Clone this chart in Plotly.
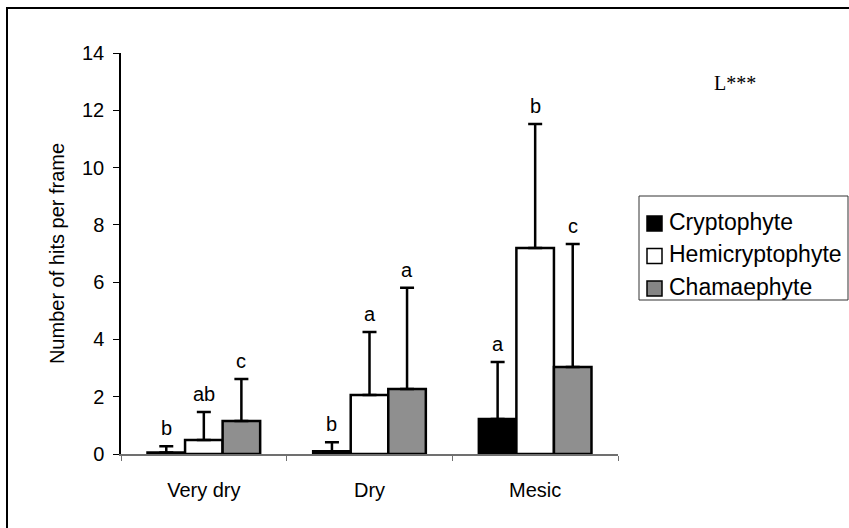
import plotly.graph_objects as go

# Moisture classes and life-form groups
sites = ["Very dry", "Dry", "Mesic"]
life_forms = ["Cryptophyte", "Hemicryptophyte", "Chamaephyte"]

# Mean number of hits per frame and the upper error (SD)
cryptophyte_mean = [0.05, 0.10, 1.22]
cryptophyte_err = [0.22, 0.31, 1.99]
hemicryptophyte_mean = [0.49, 2.06, 7.19]
hemicryptophyte_err = [0.98, 2.20, 4.33]
chamaephyte_mean = [1.15, 2.27, 3.04]
chamaephyte_err = [1.47, 3.53, 4.29]

# Significance letters above each bar
cryptophyte_letters = ["b", "b", "a"]
hemicryptophyte_letters = ["ab", "a", "b"]
chamaephyte_letters = ["c", "a", "c"]

W, H = 849, 528
L_M, R_M, T_M, B_M = 121, 231, 53, 74
PW, PH = W - L_M - R_M, H - T_M - B_M
BARGAP = 0.32
FONT = "Liberation Sans, Arial"


def px(x):
    """Horizontal pixel position -> paper fraction."""
    return (x - L_M) / PW


def py(y):
    """Vertical pixel position (from top) -> paper fraction."""
    return (H - B_M - y) / PH


dots = dict(shape=".", size=2, solidity=0.5, fgcolor="black",
            bgcolor="white", fillmode="replace")
fills = {
    "Cryptophyte": dict(color="white"),
    "Hemicryptophyte": dict(color="white"),
    "Chamaephyte": dict(color="white", pattern=dots),
}
fills["Cryptophyte"] = dict(color="black")
legend_fill = {"Cryptophyte": "black", "Hemicryptophyte": "white",
               "Chamaephyte": "#858585"}

series = [
    ("Cryptophyte", cryptophyte_mean, cryptophyte_err, cryptophyte_letters),
    ("Hemicryptophyte", hemicryptophyte_mean, hemicryptophyte_err, hemicryptophyte_letters),
    ("Chamaephyte", chamaephyte_mean, chamaephyte_err, chamaephyte_letters),
]

fig = go.Figure()
for name, mean, err, _ in series:
    marker = dict(fills[name])
    marker["line"] = dict(color="black", width=2.5)
    fig.add_trace(go.Bar(
        x=sites, y=mean, name=name, showlegend=False,
        marker=marker,
        error_y=dict(type="data", array=err, arrayminus=[0] * len(err),
                     symmetric=False, color="black", thickness=2.5, width=7),
    ))

# Letters above the error bars
bar_w = (1 - BARGAP) / len(series)
for k, (name, mean, err, letters) in enumerate(series):
    offset = (k - (len(series) - 1) / 2) * bar_w
    for i, (m, e, lab) in enumerate(zip(mean, err, letters)):
        fig.add_annotation(x=i + offset, y=m + e, xref="x", yref="y",
                           text=lab, showarrow=False, yanchor="bottom",
                           xanchor="center", yshift=5,
                           font=dict(family=FONT, size=20, color="black"))

# Linear-effect significance note
fig.add_annotation(x=px(735), y=py(83), xref="paper", yref="paper",
                   text="L***", showarrow=False, xanchor="center",
                   yanchor="middle",
                   font=dict(family="Liberation Serif, Times New Roman",
                             size=20, color="black"))

# Legend box with swatches and labels
fig.add_shape(type="rect", xref="paper", yref="paper",
              x0=px(639), x1=px(848), y0=py(300), y1=py(196),
              line=dict(color="#333333", width=1), fillcolor="white")
for j, name in enumerate(life_forms):
    yc = 223 + j * 32.5
    fig.add_shape(type="rect", xref="paper", yref="paper",
                  x0=px(647), x1=px(662), y0=py(yc + 8), y1=py(yc - 7),
                  line=dict(color="black", width=1.5),
                  fillcolor=legend_fill[name])
    fig.add_annotation(x=px(667), y=py(yc - 1), xref="paper", yref="paper",
                       text=name, showarrow=False, xanchor="left",
                       yanchor="middle",
                       font=dict(family=FONT, size=23, color="black"))

# Outer frame
fig.add_shape(type="rect", xref="paper", yref="paper",
              x0=px(7), x1=px(870), y0=py(H + 20), y1=py(8),
              line=dict(color="black", width=2), fillcolor="rgba(0,0,0,0)",
              layer="above")

fig.update_layout(
    width=W, height=H,
    margin=dict(l=L_M, r=R_M, t=T_M, b=B_M, autoexpand=False),
    paper_bgcolor="white", plot_bgcolor="white",
    barmode="group", bargap=BARGAP, bargroupgap=0,
    font=dict(family=FONT, size=20, color="black"),
    showlegend=False,
)
fig.update_xaxes(showline=True, linecolor="#707070", linewidth=1.5,
                 ticks="outside", tickson="boundaries", ticklen=5,
                 tickcolor="#707070", ticklabelstandoff=17,
                 showgrid=False, zeroline=False)
fig.update_yaxes(range=[0, 14], dtick=2, showline=True, linecolor="black",
                 linewidth=1.5, ticks="outside", ticklen=6, tickcolor="black",
                 showgrid=False, zeroline=False, ticklabelstandoff=5,
                 title=dict(text="Number of hits per frame", standoff=12,
                            font=dict(size=20)))

fig.write_html("out.html")
